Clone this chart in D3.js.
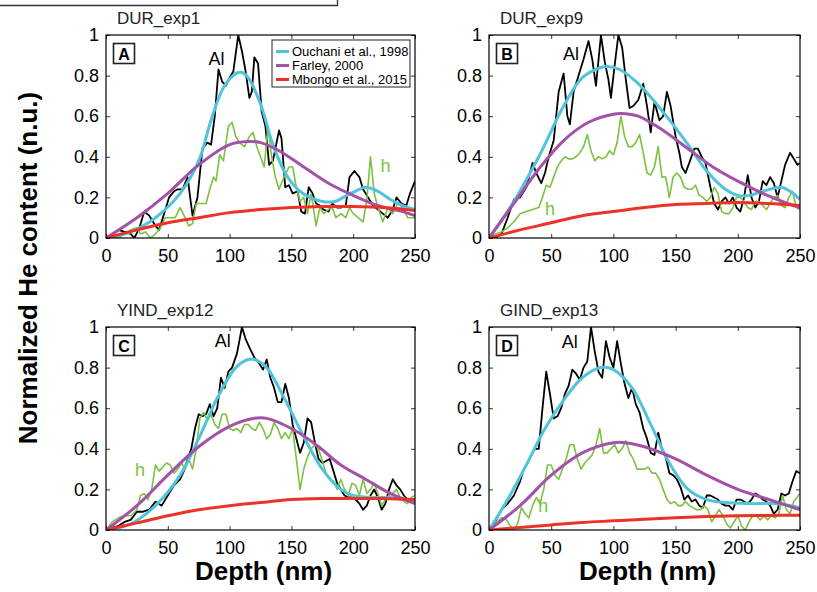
<!DOCTYPE html>
<html>
<head>
<meta charset="utf-8">
<script src="https://cdn.jsdelivr.net/npm/d3@7"></script>
<style>
  body { margin: 0; background: #fff; }
  svg { font-family: "Liberation Sans", Arial, Helvetica, sans-serif; }
</style>
</head>
<body>
<div id="chart"></div>
<script>
// ---- data: [depth nm, normalized content] ----
const xTicks = [0, 50, 100, 150, 200, 250];
const yTicks = [0, 0.2, 0.4, 0.6, 0.8, 1];
const legendNames = ["Ouchani et al., 1998", "Farley, 2000", "Mbongo et al., 2015"];

// panel A  DUR_exp1
const alA = [[0,0],[5,0.02],[10,0.04],[15,0.03],[20,0.02],[23,0],[27,0.05],[31,0.13],[35,0.11],[40,0.06],[43,0.04],[47,0.12],[51,0.2],[55,0.23],[58,0.24],[62,0.24],[66,0.3],[70,0.11],[74,0.2],[78,0.44],[82,0.47],[85,0.46],[88,0.6],[91,0.83],[94,0.77],[97,0.75],[100,0.79],[103,0.82],[107,1],[110,0.92],[113,0.82],[116,0.69],[118,0.72],[120,0.89],[123,0.86],[126,0.62],[129,0.55],[132,0.36],[135,0.38],[138,0.47],[140,0.53],[142,0.49],[145,0.25],[148,0.26],[151,0.22],[155,0.23],[158,0.13],[161,0.12],[164,0.25],[167,0.22],[170,0.17],[173,0.16],[176,0.14],[180,0.13],[183,0.17],[187,0.15],[190,0.15],[194,0.16],[197,0.3],[201,0.33],[205,0.3],[208,0.24],[212,0.2],[216,0.16],[220,0.14],[224,0.12],[228,0.1],[232,0.14],[235,0.2],[239,0.17],[243,0.16],[246,0.22],[250,0.28]];
const hA = [[0,0],[5,0.01],[10,0],[15,0.02],[20,0.04],[25,0.05],[28,0.02],[32,0.03],[36,0],[40,0.02],[44,0.05],[48,0.1],[52,0.1],[56,0.1],[60,0.15],[64,0.1],[67,0.06],[70,0.07],[73,0.17],[77,0.17],[81,0.17],[84,0.24],[87,0.3],[89,0.28],[92,0.41],[95,0.38],[99,0.55],[102,0.57],[105,0.5],[108,0.47],[112,0.45],[116,0.5],[119,0.52],[122,0.45],[125,0.4],[128,0.35],[131,0.55],[134,0.4],[137,0.3],[140,0.24],[144,0.3],[148,0.35],[151,0.35],[154,0.25],[157,0.18],[160,0.2],[163,0.12],[166,0.22],[170,0.06],[173,0.15],[176,0.12],[180,0.14],[183,0.15],[186,0.1],[190,0.12],[194,0.1],[197,0.15],[200,0.12],[204,0.1],[208,0.08],[211,0.19],[214,0.4],[217,0.22],[220,0.15],[224,0.08],[228,0.15],[232,0.12],[236,0.17],[240,0.15],[244,0.1],[248,0.1],[250,0.1]];
const ouchaniA = [[0,0],[20,0.03],[40,0.1],[60,0.22],[75,0.38],[85,0.58],[95,0.74],[105,0.81],[110,0.815],[115,0.79],[125,0.66],[135,0.46],[145,0.32],[155,0.24],[165,0.2],[175,0.18],[185,0.18],[195,0.21],[205,0.24],[210,0.25],[220,0.23],[230,0.19],[240,0.16],[250,0.14]];
const farleyA = [[0,0],[25,0.1],[50,0.22],[75,0.36],[100,0.46],[115,0.475],[125,0.47],[140,0.43],[160,0.35],[180,0.27],[200,0.21],[220,0.16],[240,0.13],[250,0.11]];
const mbongoA = [[0,0],[25,0.04],[50,0.075],[75,0.1],[100,0.125],[125,0.14],[150,0.15],[175,0.155],[200,0.155],[225,0.15],[250,0.135]];

// panel B  DUR_exp9
const alB = [[0,0],[5,0],[10,0.02],[15,0.1],[20,0.19],[25,0.2],[30,0.25],[35,0.37],[38,0.32],[42,0.27],[45,0.32],[48,0.4],[52,0.48],[56,0.72],[60,0.81],[63,0.6],[65,0.56],[68,0.72],[72,0.8],[76,0.88],[80,0.97],[83,0.88],[86,0.75],[90,1],[93,0.87],[96,0.78],[98,0.69],[101,0.85],[104,1],[107,0.94],[110,0.78],[113,0.64],[116,0.65],[120,0.68],[124,0.76],[127,0.65],[130,0.52],[133,0.67],[137,0.58],[140,0.6],[143,0.72],[146,0.65],[150,0.5],[153,0.42],[155,0.35],[158,0.32],[161,0.37],[165,0.44],[168,0.44],[171,0.4],[174,0.37],[178,0.25],[181,0.17],[184,0.14],[187,0.18],[190,0.2],[193,0.17],[196,0.2],[199,0.15],[202,0.13],[205,0.2],[208,0.31],[211,0.2],[214,0.15],[217,0.18],[220,0.28],[223,0.26],[226,0.3],[229,0.27],[232,0.2],[235,0.28],[238,0.36],[242,0.42],[245,0.39],[248,0.36],[250,0.37]];
const hB = [[0,0],[5,0.02],[10,0.03],[15,0.05],[20,0.08],[25,0.12],[30,0.13],[35,0.14],[40,0.15],[43,0.2],[46,0.26],[49,0.25],[52,0.3],[55,0.35],[58,0.38],[61,0.4],[64,0.39],[67,0.39],[70,0.4],[73,0.42],[76,0.45],[79,0.51],[82,0.43],[85,0.38],[88,0.4],[91,0.39],[94,0.4],[97,0.43],[100,0.41],[103,0.47],[106,0.6],[109,0.5],[112,0.45],[115,0.45],[118,0.47],[121,0.51],[124,0.42],[127,0.32],[130,0.31],[133,0.35],[136,0.45],[139,0.3],[142,0.3],[145,0.2],[148,0.3],[151,0.32],[154,0.3],[157,0.25],[160,0.24],[163,0.24],[166,0.26],[169,0.21],[172,0.2],[175,0.18],[178,0.2],[181,0.25],[184,0.22],[187,0.13],[190,0.12],[193,0.12],[196,0.15],[199,0.2],[202,0.2],[205,0.18],[208,0.15],[211,0.14],[214,0.18],[217,0.18],[220,0.16],[223,0.14],[226,0.17],[229,0.2],[232,0.21],[235,0.16],[238,0.15],[241,0.2],[244,0.23],[247,0.15],[250,0.14]];
const ouchaniB = [[0,0],[20,0.18],[40,0.4],[60,0.65],[75,0.79],[90,0.84],[95,0.845],[105,0.83],[120,0.76],[140,0.62],[160,0.46],[175,0.33],[190,0.24],[200,0.21],[210,0.21],[220,0.23],[235,0.25],[242,0.23],[250,0.19]];
const farleyB = [[0,0],[20,0.17],[40,0.34],[60,0.48],[80,0.57],[100,0.61],[110,0.612],[120,0.6],[140,0.53],[160,0.44],[180,0.35],[200,0.28],[220,0.22],[240,0.17],[250,0.15]];
const mbongoB = [[0,0],[25,0.04],[50,0.075],[75,0.11],[100,0.13],[125,0.15],[150,0.165],[175,0.17],[200,0.175],[225,0.17],[250,0.16]];

// panel C  YIND_exp12
const alC = [[0,0],[5,0.01],[10,0.02],[15,0.04],[20,0.05],[25,0.09],[30,0.09],[35,0.1],[40,0.14],[45,0.12],[50,0.17],[55,0.22],[60,0.25],[63,0.29],[66,0.35],[69,0.4],[72,0.5],[75,0.57],[78,0.56],[81,0.57],[84,0.62],[87,0.56],[90,0.6],[93,0.75],[96,0.7],[99,0.78],[102,0.8],[106,0.87],[110,1],[113,0.94],[116,0.9],[120,0.85],[124,0.82],[127,0.79],[130,0.84],[133,0.75],[136,0.7],[139,0.63],[142,0.63],[145,0.72],[148,0.65],[151,0.52],[154,0.45],[157,0.38],[160,0.43],[163,0.55],[166,0.53],[169,0.43],[172,0.35],[175,0.33],[178,0.34],[181,0.35],[184,0.29],[187,0.23],[190,0.2],[193,0.17],[196,0.16],[199,0.16],[202,0.15],[205,0.13],[208,0.1],[211,0.12],[214,0.17],[217,0.2],[220,0.16],[223,0.1],[226,0.13],[229,0.2],[232,0.25],[235,0.22],[238,0.2],[241,0.17],[244,0.15],[247,0.14],[250,0.15]];
const hC = [[0,0],[5,0.04],[10,0.06],[15,0.07],[20,0.07],[25,0.1],[28,0.17],[31,0.18],[34,0.15],[37,0.2],[40,0.32],[43,0.29],[46,0.31],[49,0.33],[52,0.32],[55,0.28],[58,0.3],[61,0.33],[64,0.3],[67,0.35],[70,0.3],[73,0.4],[76,0.55],[79,0.58],[82,0.54],[85,0.57],[88,0.52],[91,0.5],[94,0.57],[97,0.57],[100,0.5],[103,0.49],[106,0.5],[109,0.48],[112,0.52],[115,0.52],[118,0.5],[121,0.49],[124,0.53],[127,0.5],[130,0.45],[133,0.47],[136,0.53],[139,0.5],[142,0.45],[145,0.48],[148,0.45],[151,0.5],[154,0.35],[157,0.2],[160,0.3],[163,0.36],[166,0.4],[169,0.42],[172,0.4],[175,0.34],[178,0.28],[181,0.25],[184,0.24],[187,0.2],[190,0.25],[193,0.2],[196,0.17],[199,0.23],[202,0.22],[205,0.17],[208,0.25],[211,0.18],[214,0.2],[217,0.23],[220,0.18],[223,0.12],[226,0.15],[229,0.17],[232,0.18],[235,0.2],[238,0.16],[241,0.14],[244,0.13],[247,0.16],[250,0.17]];
const ouchaniC = [[0,0],[20,0.03],[40,0.12],[60,0.27],[75,0.45],[90,0.65],[105,0.8],[115,0.84],[120,0.84],[130,0.8],[145,0.64],[160,0.46],[175,0.3],[190,0.2],[200,0.17],[215,0.16],[230,0.16],[240,0.15],[250,0.14]];
const farleyC = [[0,0],[25,0.12],[50,0.27],[75,0.41],[100,0.51],[120,0.55],[130,0.55],[150,0.5],[170,0.42],[190,0.32],[210,0.25],[230,0.18],[250,0.13]];
const mbongoC = [[0,0],[25,0.035],[50,0.07],[75,0.1],[100,0.12],[125,0.135],[150,0.15],[175,0.155],[200,0.155],[225,0.155],[250,0.15]];

// panel D  GIND_exp13
const alD = [[0,0],[5,0.04],[10,0.1],[15,0.13],[20,0.17],[25,0.24],[28,0.3],[31,0.33],[34,0.37],[37,0.4],[40,0.4],[43,0.6],[46,0.78],[49,0.67],[52,0.55],[55,0.56],[58,0.6],[61,0.67],[64,0.71],[67,0.79],[70,0.77],[73,0.74],[76,0.8],[79,0.83],[82,1],[85,0.88],[88,0.78],[91,0.75],[94,0.93],[97,0.85],[100,0.8],[103,0.93],[106,0.82],[109,0.72],[112,0.65],[115,0.7],[118,0.62],[121,0.58],[124,0.5],[127,0.45],[130,0.38],[133,0.37],[136,0.48],[139,0.4],[142,0.36],[145,0.28],[148,0.27],[151,0.25],[154,0.21],[157,0.15],[160,0.17],[163,0.14],[166,0.15],[169,0.12],[172,0.11],[175,0.17],[178,0.17],[181,0.16],[184,0.15],[187,0.13],[190,0.12],[193,0.12],[196,0.1],[199,0.15],[202,0.15],[205,0.14],[208,0.13],[211,0.15],[214,0.18],[217,0.17],[220,0.15],[223,0.14],[226,0.12],[229,0.08],[232,0.1],[235,0.18],[238,0.17],[241,0.18],[244,0.24],[247,0.29],[250,0.28]];
const hD = [[0,0],[5,0.03],[10,0.06],[13,0.06],[16,0.03],[20,0],[23,0.03],[26,0.11],[29,0.08],[32,0.06],[35,0.12],[38,0.16],[41,0.13],[44,0.2],[47,0.32],[50,0.32],[53,0.27],[56,0.25],[59,0.3],[62,0.35],[65,0.42],[68,0.42],[71,0.35],[74,0.3],[77,0.33],[80,0.35],[83,0.37],[86,0.42],[89,0.5],[92,0.38],[95,0.38],[98,0.4],[101,0.42],[104,0.38],[107,0.4],[110,0.44],[113,0.38],[116,0.35],[119,0.3],[122,0.3],[125,0.3],[128,0.31],[131,0.28],[134,0.28],[137,0.25],[140,0.2],[143,0.15],[146,0.13],[149,0.14],[152,0.12],[155,0.12],[158,0.14],[161,0.12],[164,0.11],[167,0.1],[170,0.1],[173,0.12],[176,0.1],[179,0.04],[182,0.07],[185,0.1],[188,0.07],[191,0.03],[194,0.01],[197,0.04],[200,0.07],[203,0.02],[206,0],[209,0.04],[212,0.07],[215,0.07],[218,0.05],[221,0.07],[224,0.05],[227,0.07],[230,0.06],[233,0.08],[236,0.17],[239,0.1],[242,0.08],[245,0.14],[250,0.18]];
const ouchaniD = [[0,0],[15,0.15],[30,0.32],[45,0.5],[60,0.64],[75,0.75],[90,0.8],[100,0.79],[115,0.7],[130,0.52],[145,0.33],[160,0.2],[175,0.15],[190,0.135],[210,0.13],[230,0.13],[250,0.11]];
const farleyD = [[0,0],[25,0.12],[50,0.27],[75,0.38],[100,0.43],[110,0.43],[125,0.41],[150,0.35],[175,0.27],[200,0.2],[225,0.15],[250,0.1]];
const mbongoD = [[0,0],[25,0.012],[50,0.025],[75,0.037],[100,0.045],[125,0.053],[150,0.06],[175,0.066],[200,0.07],[225,0.072],[250,0.073]];

const colors = { al: "#000000", h: "#7cc142", ouchani: "#4fc4dc", farley: "#a352a8", mbongo: "#ee3127" };

const panels = [
  { title: "DUR_exp1",   tag: "A", left: 106, top: 35,  w: 309, h: 203, al: alA, hh: hA, ou: ouchaniA, fa: farleyA, mb: mbongoA, alPos: [83, 0.85], hPos: [222, 0.325], legend: true },
  { title: "DUR_exp9",   tag: "B", left: 489, top: 35,  w: 311, h: 203, al: alB, hh: hB, ou: ouchaniB, fa: farleyB, mb: mbongoB, alPos: [59.5, 0.877], hPos: [45, 0.113] },
  { title: "YIND_exp12", tag: "C", left: 106, top: 327, w: 309, h: 203, al: alC, hh: hC, ou: ouchaniC, fa: farleyC, mb: mbongoC, alPos: [88, 0.9], hPos: [23.5, 0.264] },
  { title: "GIND_exp13", tag: "D", left: 489, top: 327, w: 311, h: 203, al: alD, hh: hD, ou: ouchaniD, fa: farleyD, mb: mbongoD, alPos: [58.5, 0.897], hPos: [39.5, 0.09] }
];

const W = 817, H = 592;
const svg = d3.select("#chart").append("svg").attr("width", W).attr("height", H);

// bit of a box cut off at the top left of the figure
svg.append("path").attr("d", "M0,5.5H337.5V0").attr("fill", "none").attr("stroke", "#333").attr("stroke-width", 1.3);

function drawPanel(p) {
  const x = d3.scaleLinear().domain([0, 250]).range([0, p.w]);
  const y = d3.scaleLinear().domain([0, 1]).range([p.h, 0]);
  const g = svg.append("g").attr("transform", `translate(${p.left},${p.top})`);

  g.append("defs").append("clipPath").attr("id", "clip" + p.tag)
    .append("rect").attr("width", p.w).attr("height", p.h);

  // axes, MATLAB style: ticks inside on all four sides
  const fmt = d3.format("~g");
  const bx = g.append("g").attr("transform", `translate(0,${p.h})`)
    .call(d3.axisBottom(x).tickValues(xTicks).tickSize(-4).tickPadding(11).tickFormat(fmt));
  const ly = g.append("g")
    .call(d3.axisLeft(y).tickValues(yTicks).tickSize(-4).tickPadding(7).tickFormat(fmt));
  g.append("g").call(d3.axisTop(x).tickValues(xTicks).tickSize(-4).tickFormat(""));
  g.append("g").attr("transform", `translate(${p.w},0)`)
    .call(d3.axisRight(y).tickValues(yTicks).tickSize(-4).tickFormat(""));
  g.selectAll(".domain").remove();
  g.selectAll(".tick line").attr("stroke", "#000").attr("stroke-width", 0.8);
  g.selectAll(".tick text").attr("font-size", 18).attr("fill", "#000")
    .attr("font-family", "'Liberation Sans', Arial, sans-serif");

  const lines = g.append("g").attr("clip-path", `url(#clip${p.tag})`);
  const raw = d3.line().x(d => x(d[0])).y(d => y(d[1])).curve(d3.curveLinear);
  const smooth = d3.line().x(d => x(d[0])).y(d => y(d[1])).curve(d3.curveCatmullRom.alpha(0.5));

  lines.append("path").attr("d", raw(p.al)).attr("fill", "none").attr("stroke", colors.al).attr("stroke-width", 1.8).attr("stroke-linejoin", "round");
  lines.append("path").attr("d", raw(p.hh)).attr("fill", "none").attr("stroke", colors.h).attr("stroke-width", 1.6).attr("stroke-linejoin", "round");
  lines.append("path").attr("d", smooth(p.ou)).attr("fill", "none").attr("stroke", colors.ouchani).attr("stroke-width", 3);
  lines.append("path").attr("d", smooth(p.fa)).attr("fill", "none").attr("stroke", colors.farley).attr("stroke-width", 3);
  lines.append("path").attr("d", smooth(p.mb)).attr("fill", "none").attr("stroke", colors.mbongo).attr("stroke-width", 3);

  // plot box
  g.append("rect").attr("width", p.w).attr("height", p.h)
    .attr("fill", "none").attr("stroke", "#000").attr("stroke-width", 1.2);

  // title
  svg.append("text").attr("x", p.left + 11).attr("y", p.top - 11)
    .attr("font-size", 17).attr("fill", "#222").text(p.title);

  // panel letter
  g.append("rect").attr("x", 7.5).attr("y", 8.5).attr("width", 21).attr("height", 20)
    .attr("fill", "#fff").attr("stroke", "#222").attr("stroke-width", 1.6);
  g.append("text").attr("x", 18).attr("y", 24.5).attr("text-anchor", "middle")
    .attr("font-size", 16).attr("font-weight", "bold").text(p.tag);

  // series labels
  g.append("text").attr("x", x(p.alPos[0])).attr("y", y(p.alPos[1]))
    .attr("font-size", 18).attr("fill", "#000").text("Al");
  g.append("text").attr("x", x(p.hPos[0])).attr("y", y(p.hPos[1]))
    .attr("font-size", 18).attr("fill", colors.h).text("h");

  if (p.legend) {
    const lg = svg.append("g").attr("transform", "translate(272,40)");
    lg.append("rect").attr("width", 138).attr("height", 47)
      .attr("fill", "#fff").attr("stroke", "#222").attr("stroke-width", 1);
    const cols = [colors.ouchani, colors.farley, colors.mbongo];
    legendNames.forEach((n, i) => {
      const yy = 11.5 + i * 14;
      lg.append("line").attr("x1", 4).attr("x2", 17).attr("y1", yy).attr("y2", yy)
        .attr("stroke", cols[i]).attr("stroke-width", 3);
      lg.append("text").attr("x", 20).attr("y", yy + 4.5).attr("font-size", 13).text(n);
    });
  }
}

panels.forEach(drawPanel);

// shared axis labels
svg.append("text").attr("transform", "translate(37,268) rotate(-90)")
  .attr("text-anchor", "middle").attr("font-size", 26).attr("font-weight", "bold")
  .text("Normalized He content (n.u.)");
[panels[2], panels[3]].forEach(p => {
  svg.append("text").attr("x", p.left + p.w / 2 + 3).attr("y", 580)
    .attr("text-anchor", "middle").attr("font-size", 26).attr("font-weight", "bold")
    .text("Depth (nm)");
});
</script>
</body>
</html>
